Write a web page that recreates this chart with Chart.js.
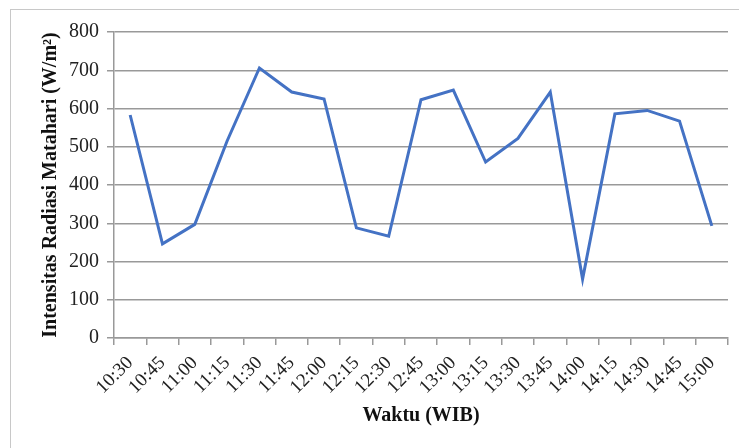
<!DOCTYPE html>
<html>
<head>
<meta charset="utf-8">
<script src="https://cdn.jsdelivr.net/npm/chart.js@4"></script>
<style>
  html, body { margin: 0; padding: 0; background: #fff; overflow: hidden; }
  #wrap { position: relative; width: 739px; height: 448px; }
  #frame { position: absolute; left: 10px; top: 9px; width: 760px; height: 460px; border: 1.5px solid #c8c8c8; }
  canvas { position: absolute; left: 0; top: 0; }
</style>
</head>
<body>
<div id="wrap">
  <div id="frame"></div>
  <canvas id="chart" width="739" height="448"></canvas>
</div>
<script>
const waktu = ['10:30', '10:45', '11:00', '11:15', '11:30', '11:45', '12:00', '12:15', '12:30', '12:45',
               '13:00', '13:15', '13:30', '13:45', '14:00', '14:15', '14:30', '14:45', '15:00'];
const intensitas = [583, 246, 297, 515, 706, 643, 625, 288, 266, 623,
                    648, 460, 522, 643, 154, 586, 595, 567, 293];

const serif = "'Liberation Serif', 'Times New Roman', serif";

new Chart(document.getElementById('chart'), {
    type: 'line',
    data: {
        labels: waktu,
        datasets: [{
            data: intensitas,
            borderColor: '#4472C4',
            borderWidth: 3,
            pointRadius: 0,
            tension: 0
        }]
    },
    options: {
        responsive: false,
        animation: false,
        layout: { padding: { left: 39, right: 11, top: 32, bottom: 20 } },
        plugins: { legend: { display: false }, tooltip: { enabled: false } },
        scales: {
            x: {
                offset: true,
                afterFit: (s) => { s.height = 90; },
                grid: { offset: true, drawOnChartArea: false, drawTicks: true, tickLength: 7, color: '#999', lineWidth: 1.5 },
                border: { color: '#999', width: 1.5 },
                ticks: { autoSkip: false, color: '#222', font: { family: serif, size: 19 }, maxRotation: 45, minRotation: 45, padding: 7 },
                title: { display: true, text: 'Waktu (WIB)', color: '#111', font: { family: serif, size: 20, weight: 'bold' }, padding: 0 }
            },
            y: {
                min: 0,
                max: 800,
                afterFit: (s) => { s.width = 75; },
                ticks: { stepSize: 100, color: '#222', font: { family: serif, size: 20 }, padding: 8 },
                grid: { color: '#999', lineWidth: 1.5, tickLength: 7 },
                border: { color: '#999', width: 1.5 },
                title: { display: true, text: 'Intensitas Radiasi Matahari (W/m²)', color: '#111', font: { family: serif, size: 20, weight: 'bold' }, padding: 0 }
            }
        }
    }
});
</script>
</body>
</html>
